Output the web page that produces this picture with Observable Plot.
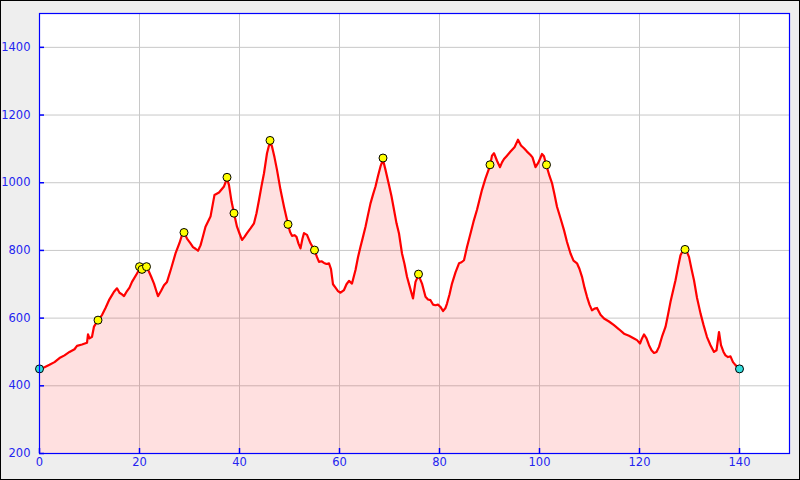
<!DOCTYPE html>
<html><head><meta charset="utf-8">
<script src="https://cdn.jsdelivr.net/npm/d3@7"></script>
<script src="https://cdn.jsdelivr.net/npm/@observablehq/plot@0.6"></script>
<style>
html,body{margin:0;padding:0;background:#eee;}
#chart svg{display:block;outline:1px solid #000;outline-offset:-1px;}
</style></head><body><div id="chart"></div>
<script>
const distance = [0,1,2,3,4,5,6,7,7.5,8.5,9.5,9.7,10.0,10.5,10.9,11.7,12.5,13.2,13.9,14.5,14.9,15.5,16.0,16.5,16.9,17.5,18.0,18.5,19.5,20.0,20.5,21.0,21.4,21.9,22.4,22.9,23.3,23.7,24.3,24.9,25.5,26.3,27.2,28.0,28.5,28.9,29.5,30.2,30.7,31.2,31.7,32.2,32.5,33.2,34.2,35.0,35.9,36.4,36.9,37.5,37.9,38.4,38.9,39.5,40.0,40.5,41.0,41.5,42.2,42.9,43.4,43.9,44.4,44.9,45.5,46.1,46.5,47.0,47.5,48.2,48.9,49.7,50.1,50.5,51.0,51.4,51.8,52.2,52.6,52.9,53.5,54.2,55.0,55.5,55.9,56.4,56.9,57.4,57.9,58.3,58.7,59.2,59.7,60.2,60.9,61.4,61.9,62.5,63.2,63.7,64.2,64.7,65.2,65.7,66.2,66.7,67.2,67.7,68.2,68.7,69.2,69.9,70.4,70.9,71.4,71.9,72.5,73.0,73.5,74.1,74.7,75.2,75.8,76.5,77.2,77.7,78.2,78.7,79.2,79.7,80.2,80.7,81.2,81.5,82.0,82.5,83.2,83.9,84.4,84.9,85.5,86.2,86.8,87.5,88.0,88.5,89.2,90.1,90.5,90.9,91.5,92.1,92.5,92.9,93.5,94.2,95.0,95.7,96.3,96.9,97.5,98.2,98.6,99.2,99.8,100.5,100.9,101.4,102.0,102.5,103.0,103.5,104.2,104.9,105.5,106.2,106.8,107.5,108.0,108.5,109.0,109.5,110.0,110.5,111.0,111.5,112.2,112.9,113.9,114.9,115.9,116.9,117.9,118.9,119.5,120.1,120.5,120.9,121.4,121.9,122.4,122.9,123.4,123.9,124.5,125.2,125.7,126.2,126.7,127.2,127.7,128.2,128.7,129.1,129.5,129.9,130.4,130.9,131.5,132.2,132.8,133.5,134.2,134.9,135.4,135.9,136.3,136.8,137.2,137.7,138.2,138.7,139.2,140];
const elevation = [450,455,462,470,482,490,500,508,518,522,527,552,540,545,575,594,609,630,653,668,678,688,675,670,665,680,690,707,732,745,744,752,752,737,720,702,683,665,680,697,707,745,791,822,845,853,835,821,810,805,799,815,831,870,900,964,971,980,989,1013,993,945,910,870,850,831,840,851,865,880,910,949,990,1028,1087,1122,1107,1075,1038,979,929,877,855,843,845,840,820,806,835,851,846,821,801,780,766,768,763,760,762,745,700,690,680,675,683,700,710,702,742,780,811,840,870,905,939,965,989,1020,1048,1068,1038,993,960,920,880,850,791,760,722,690,658,707,727,702,663,655,653,640,638,640,633,621,630,643,670,702,735,762,765,771,810,850,885,920,950,979,1013,1050,1080,1087,1065,1046,1060,1070,1080,1092,1105,1127,1110,1102,1092,1082,1075,1046,1060,1085,1078,1050,1020,999,965,929,895,860,825,791,770,762,745,722,690,663,640,623,628,630,610,599,590,579,567,554,548,540,535,525,540,552,540,520,505,497,500,515,545,574,610,648,680,712,750,786,800,803,795,781,745,712,660,614,580,544,520,500,505,559,520,500,490,485,487,470,461,450];
const waypointX = [11.7,20.0,20.5,21.4,28.9,37.5,38.9,46.1,49.7,55.0,68.7,75.8,90.1,101.4,129.1];
const waypointY = [594,752,744,752,853,1016,910,1125,877,801,1073,730,1053,1053,803];
const endX = [0,140];
const endY = [450,450];
const xTicks = [0,20,40,60,80,100,120,140];
const yTicks = [200,400,600,800,1000,1200,1400];

const profile = distance.map((d,i)=>({x:d,y:elevation[i]}));
const waypoints = waypointX.map((d,i)=>({x:d,y:waypointY[i]}));
const ends = endX.map((d,i)=>({x:d,y:endY[i]}));

const chart = Plot.plot({
  width:800, height:480,
  marginLeft:39, marginRight:11, marginTop:13, marginBottom:27,
  style:{background:"#eee", fontFamily:"'DejaVu Sans', sans-serif", fontSize:"11.5px"},
  x:{domain:[0,150]},
  y:{domain:[200,1500]},
  marks:[
    Plot.frame({fill:"white"}),
    Plot.gridX(xTicks,{stroke:"#c8c8c8", strokeOpacity:1}),
    Plot.gridY(yTicks,{stroke:"#c8c8c8", strokeOpacity:1}),
    Plot.areaY(profile,{x:"x", y1:200, y2:"y", fill:"red", fillOpacity:0.12}),
    Plot.lineY(profile,{x:"x", y:"y", stroke:"red", strokeWidth:2.2}),
    Plot.dot(waypoints,{x:"x", y:"y", r:4, fill:"yellow", stroke:"black", strokeWidth:1}),
    Plot.dot(ends,{x:"x", y:"y", r:4, fill:"#33dddd", stroke:"black", strokeWidth:1}),
    Plot.frame({stroke:"blue", strokeWidth:1.2}),
    Plot.axisX(xTicks,{tickSize:5, dy:-5, tickFormat:()=>"", stroke:"blue", strokeWidth:1.5, label:null}),
    Plot.axisY(yTicks,{tickSize:5, dx:5, tickFormat:()=>"", stroke:"blue", strokeWidth:1.5, label:null}),
    Plot.axisX(xTicks,{tickSize:0, tickPadding:4, tickFormat:"d", fill:"#2424f0", label:null}),
    Plot.axisY(yTicks,{tickSize:0, tickPadding:9, tickFormat:"d", fill:"#2424f0", label:null})
  ]
});
document.getElementById("chart").appendChild(chart);
</script></body></html>
